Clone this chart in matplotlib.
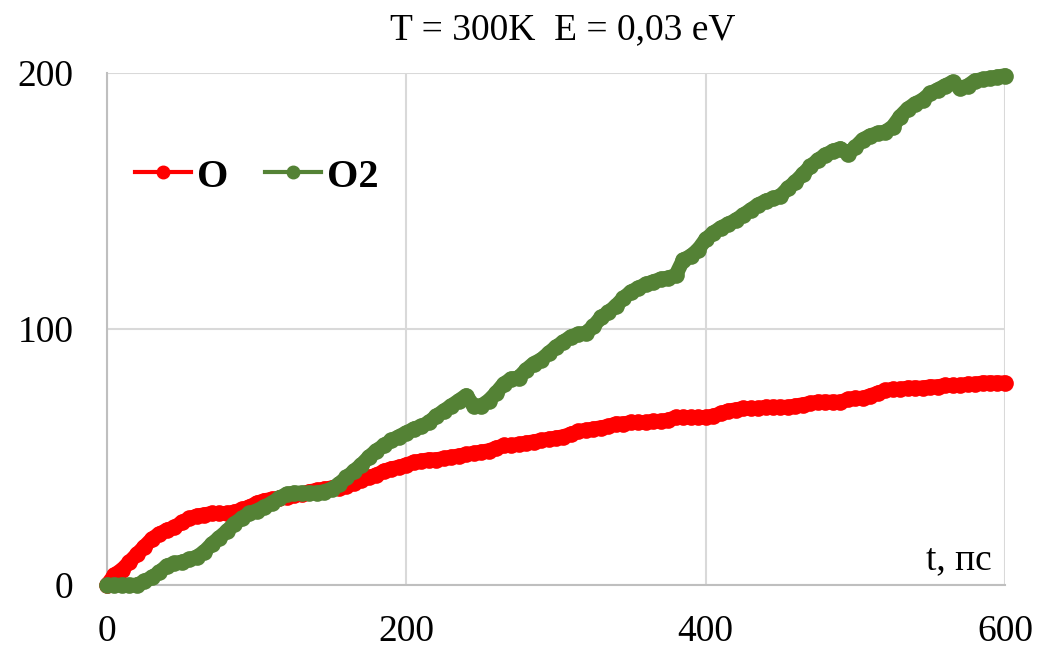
import numpy as np
import matplotlib
matplotlib.use('Agg')
import matplotlib.pyplot as plt
from matplotlib.lines import Line2D

plt.rcParams['font.family'] = ['Liberation Serif', 'DejaVu Serif']

# time axis, ps (every 5 ps)
t = np.arange(0, 601, 5)

# O atoms
o_vals = [0, 4, 6, 9, 12, 15, 18, 20, 21.5, 22.5,
          24.5, 26, 27, 27.5, 28, 28, 28, 28.5, 29.5, 30.5,
          32, 33, 33.5, 34, 34.5, 35, 35.5, 36.5, 37, 37.5,
          38, 38, 38.5, 40, 41, 42, 43, 44.5, 45.5, 46,
          47, 48, 48.5, 49, 49, 49.5, 50, 50.5, 51, 51.5,
          52, 52.5, 53.5, 54.5, 54.5, 55, 55.5, 56, 56.5, 57,
          57.5, 58, 59, 60, 60.5, 61, 61.5, 62, 63, 63,
          63.5, 63.5, 63.5, 64, 64, 64.5, 65.5, 65.5, 65.5, 65.5,
          65.5, 66, 67, 68, 68.5, 69, 69, 69, 69.5, 69.5,
          69.5, 69.5, 70, 70.5, 71, 71.5, 71.5, 71.5, 71.5, 72.5,
          73, 73, 74, 75, 76, 76.5, 76.5, 77, 77, 77,
          77.5, 77.5, 78, 78, 78, 78.5, 78.5, 79, 79, 79,
          79]

# O2 molecules
o2_vals = [0, 0, 0, 0, 0, 1.5, 3, 5, 7.5, 8.5,
           9, 10, 11, 13, 16, 18.5, 21, 24, 26, 28,
           29, 30.5, 32, 34, 35.5, 36, 36, 36, 36, 36.5,
           37.5, 39.5, 42, 44.5, 47, 50, 52.5, 54.5, 56.5, 58,
           59.5, 61, 62, 63.5, 66, 68, 70, 72, 74, 70,
           70, 72, 75, 78.5, 80.5, 81, 84, 86.5, 88, 90.5,
           93, 95, 97, 98, 98.5, 101, 104.5, 106.5, 109, 112,
           114.5, 116, 117.5, 118.5, 119.5, 120, 121, 127, 128.5, 131,
           135, 137.5, 139.5, 141, 142.5, 144.5, 146.5, 148.5, 150, 151,
           152, 155, 157.5, 160.5, 163.5, 166, 168, 169.5, 170.5, 168.5,
           171, 174, 175.5, 176.5, 177, 179, 183, 186, 188, 189.5,
           192, 193.5, 195, 196.5, 194, 195, 197, 197.5, 198, 198.5,
           199]

x_ticks = [0, 200, 400, 600]
y_ticks = [0, 100, 200]

red = '#FF0000'
green = '#548235'

fig = plt.figure(figsize=(10.4, 6.47), dpi=100)
ax = fig.add_axes([0.1029, 0.0958, 0.8634, 0.7914])

for vals, col, z in [(o_vals, red, 3), (o2_vals, green, 4)]:
    ax.plot(t, vals, color=col, lw=10.5, solid_capstyle='round',
            solid_joinstyle='round', marker='o', ms=12,
            markeredgewidth=0, clip_on=False, zorder=z)

ax.set_xlim(0, 600)
ax.set_ylim(0, 200)
ax.set_xticks(x_ticks)
ax.set_yticks(y_ticks)
ax.tick_params(length=0, labelsize=27)
ax.tick_params(axis='x', pad=21)
ax.tick_params(axis='y', pad=24)
ax.grid(True, color='#D9D9D9', lw=1.5)
ax.set_axisbelow(True)
for s in ['top', 'right']:
    ax.spines[s].set_visible(False)
for s in ['left', 'bottom']:
    ax.spines[s].set_color('#BFBFBF')
    ax.spines[s].set_linewidth(1.5)

ax.text(0.985, 0.015, 't, пс', transform=ax.transAxes, ha='right',
        va='bottom', fontsize=27)

handles = [Line2D([], [], color=red, lw=3, marker='o', ms=9),
           Line2D([], [], color=green, lw=3, marker='o', ms=9)]
ax.legend(handles, ['O', 'O2'], loc='center', bbox_to_anchor=(0.167, 0.797),
          ncol=2, frameon=False, prop={'weight': 'bold', 'size': 29},
          handlelength=1.4, handletextpad=0.15, columnspacing=0.9)

fig.text(0.541, 0.954, 'T = 300K  E = 0,03 eV', ha='center', va='center',
         fontsize=27)

fig.savefig('out.png', dpi=100)
